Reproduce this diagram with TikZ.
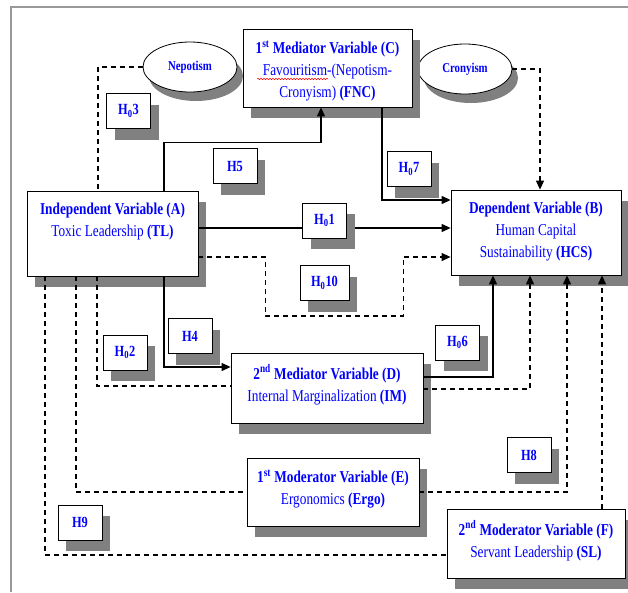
\documentclass[tikz,border=0pt]{standalone}
\usepackage{fontspec}
\setmainfont{Liberation Serif}[FakeStretch=0.8]
\usetikzlibrary{shapes,arrows,positioning,calc,shadows,arrows.meta,decorations.pathmorphing}

\tikzset{
  boxshadow/.style={drop shadow={shadow xshift=8pt, shadow yshift=-11pt, fill=black!50, opacity=1}},
  varbox/.style={draw, line width=0.8pt, fill=white, boxshadow, inner sep=0pt},
  vartext/.style={text=blue, align=center, inner sep=0pt, anchor=north, font=\fontsize{16.6}{22}\selectfont},
  oval/.style={ellipse, draw, line width=0.8pt, fill=white, minimum width=94pt, minimum height=50pt,
    drop shadow={shadow xshift=6pt, shadow yshift=-9pt, fill=black!50, opacity=1},
    text=blue, font=\bfseries\fontsize{13.5}{15}\selectfont},
  hypbox/.style={draw, line width=0.8pt, fill=white, boxshadow, minimum width=44pt, minimum height=35pt,
    inner sep=0pt, text=blue, font=\bfseries\fontsize{15.5}{17}\selectfont},
  plainlink/.style={line width=1.1pt},
  dashlink/.style={line width=1.1pt, dash pattern=on 5pt off 4pt},
  arr/.style={-{Triangle[length=9pt, width=8pt]}}
}

\begin{document}
\begin{tikzpicture}[x=1pt, y=-1pt]
\useasboundingbox (0,0) rectangle (628,592);
\draw[black!40, line width=2pt] (11,592) -- (11,7) -- (628,7);

% the two sides of favouritism
\node[oval] (nep) at (190,67) {Nepotism};
\node[oval] (cro) at (465,69) {Cronyism};

% variables
\node[varbox, minimum width=169pt, minimum height=78pt] (C) at (327.5,68) {};
\node[varbox, minimum width=171pt, minimum height=85pt] (A) at (112.5,233.5) {};
\node[varbox, minimum width=170pt, minimum height=85pt] (B) at (536,232.5) {};
\node[varbox, minimum width=192pt, minimum height=70pt] (D) at (327,388) {};
\node[varbox, minimum width=172pt, minimum height=68pt] (E) at (333,492) {};
\node[varbox, minimum width=178pt, minimum height=69pt] (F) at (536,543.5) {};

\node[vartext, below=12pt of C.north] (Ctext) {\textbf{1\textsuperscript{st} Mediator Variable (C)}\\Favouritism-(Nepotism-\\Cronyism) \textbf{(FNC)}};
\node[vartext, below=12pt of A.north] (Atext) {\textbf{Independent Variable (A)}\\Toxic Leadership \textbf{(TL)}};
\node[vartext, below=12pt of B.north] (Btext) {\textbf{Dependent Variable (B)}\\Human Capital\\Sustainability \textbf{(HCS)}};
\node[vartext, below=12pt of D.north] (Dtext) {\textbf{2\textsuperscript{nd} Mediator Variable (D)}\\Internal Marginalization \textbf{(IM)}};
\node[vartext, below=12pt of E.north] (Etext) {\textbf{1\textsuperscript{st} Moderator Variable (E)}\\Ergonomics \textbf{(Ergo)}};
\node[vartext, below=12pt of F.north] (Ftext) {\textbf{2\textsuperscript{nd} Moderator Variable (F)}\\Servant Leadership \textbf{(SL)}};
\draw[red, line width=0.5pt, decorate, decoration={snake, amplitude=0.7pt, segment length=3pt}] (257,79) -- (328,79);

% paths
\draw[dashlink] (nep.west) -| ($(A.north)+(-14.5,0)$);
\draw[dashlink, arr] (cro.east) -| ($(B.north)+(4,0)$);
\draw[plainlink, arr] ($(A.north)+(51.5,0)$) |- ($(C.south)+(-6.5,35)$) -- ($(C.south)+(-6.5,0)$);
\draw[plainlink, arr] ($(C.south)+(54.5,0)$) |- ($(B.west)+(0,-32.5)$);
\draw[plainlink, arr] ($(A.east)+(0,-5.5)$) -- ($(B.west)+(0,-4.5)$);
\draw[dashlink, arr] ($(A.east)+(0,23.5)$) -- ++(67,0) -- ++(0,59) -- ++(138,0) -- ++(0,-59) -- ($(B.west)+(0,24.5)$);
\draw[plainlink, arr] ($(A.south)+(51.5,0)$) |- ($(D.west)+(0,-21)$);
\draw[plainlink, arr] ($(D.east)+(0,-11)$) -| ($(B.south)+(-43,0)$);
\draw[dashlink] ($(A.south)+(-15.5,0)$) |- ($(D.west)+(0,-2)$);
\draw[dashlink, arr] ($(D.east)+(0,1)$) -| ($(B.south)+(-6,0)$);
\draw[dashlink] ($(A.south)+(-36.5,0)$) |- (E.west);
\draw[dashlink, arr] (E.east) -| ($(B.south)+(31,0)$);
\draw[dashlink] ($(A.south)+(-67.5,0)$) |- ($(F.west)+(0,11.5)$);
\draw[dashlink, arr] ($(F.north)+(66,0)$) -- ($(B.south)+(66,0)$);

% hypotheses
\node[hypbox] (h03) at (128.5,111) {H\textsubscript{0}3};
\node[hypbox] (h5) at (235,166) {H5};
\node[hypbox] (h07) at (409,169) {H\textsubscript{0}7};
\node[hypbox] (h01) at (324.5,220.5) {H\textsubscript{0}1};
\node[hypbox, minimum width=49pt] (h010) at (324.5,283) {H\textsubscript{0}10};
\node[hypbox] (h4) at (190,336) {H4};
\node[hypbox] (h02) at (125,352.5) {H\textsubscript{0}2};
\node[hypbox] (h06) at (457.5,342.5) {H\textsubscript{0}6};
\node[hypbox] (h8) at (529,455) {H8};
\node[hypbox] (h9) at (80,522.5) {H9};
\end{tikzpicture}
\end{document}
